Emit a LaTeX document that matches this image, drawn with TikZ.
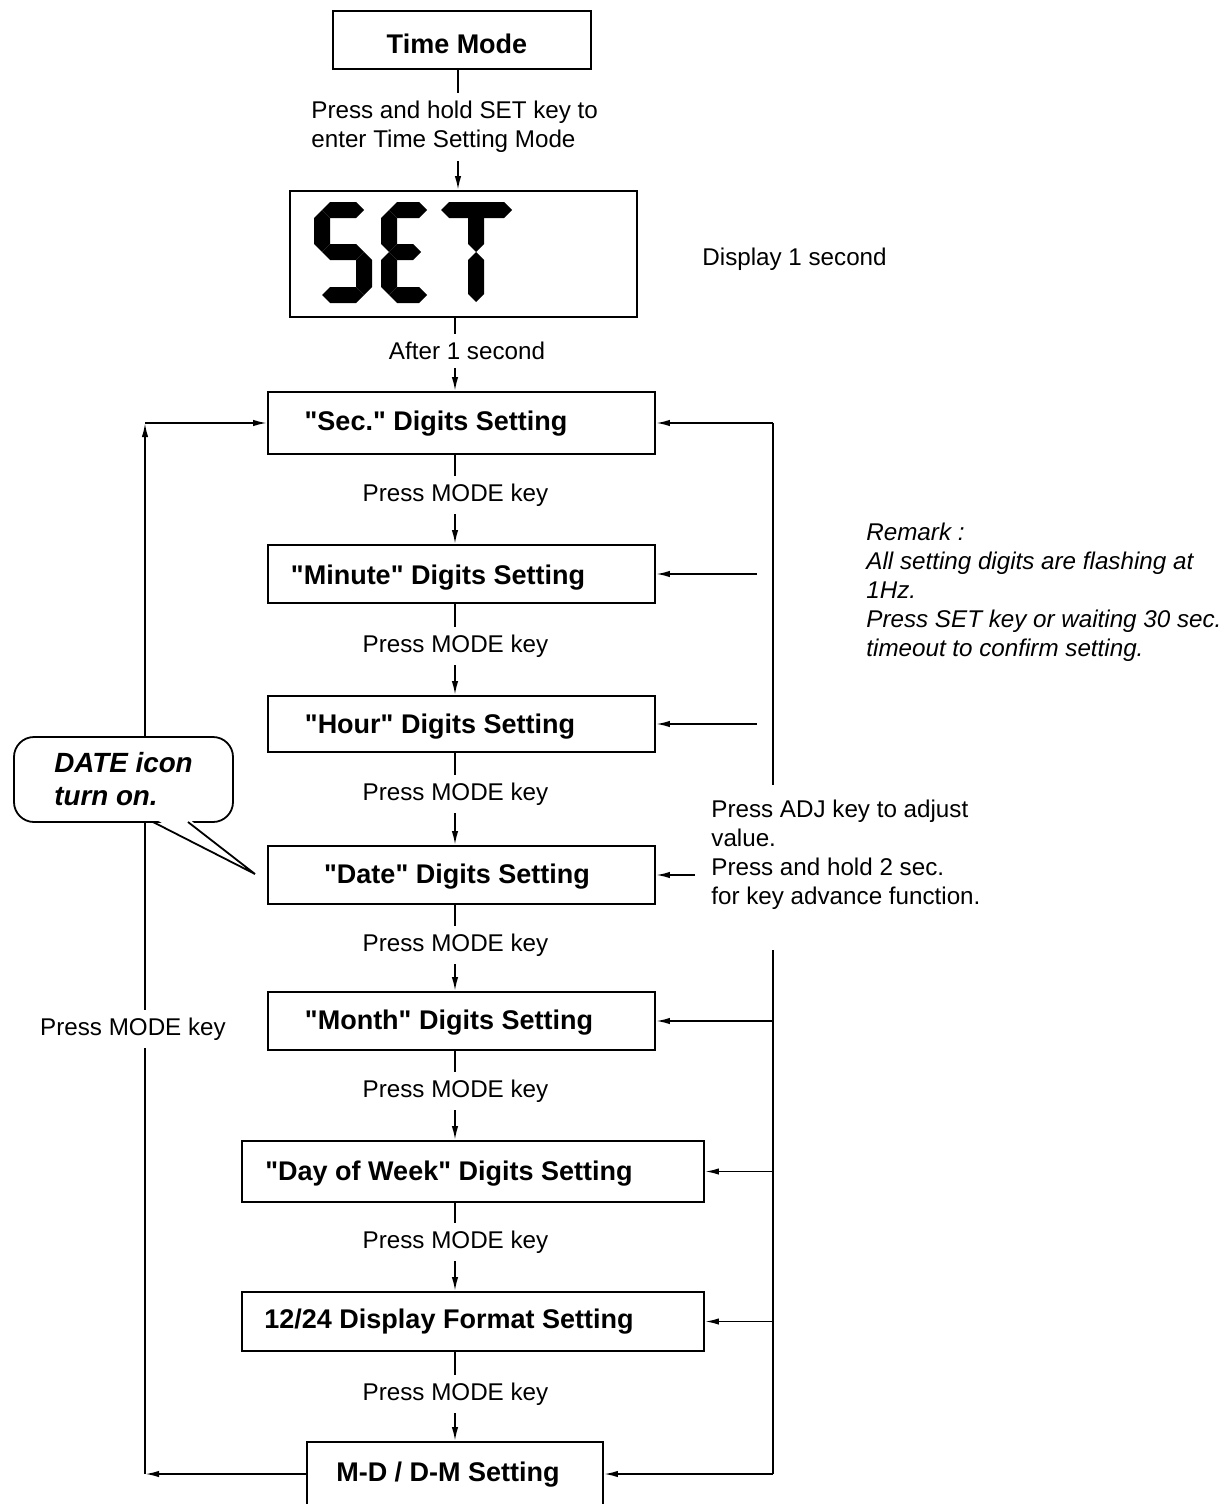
\documentclass[tikz,border=0pt]{standalone}
\usepackage{fontspec}
\setmainfont{Liberation Sans}
\newfontfamily\boxfont{Liberation Sans}
\usetikzlibrary{arrows.meta}
\newcommand\hseg[3]{\fill (#1,#3) -- (#1+8,#3-8) -- (#2-8,#3-8) -- (#2,#3) -- (#2-8,#3+8) -- (#1+8,#3+8) -- cycle;}
\newcommand\vseg[3]{\fill (#1,#2) -- (#1+8,#2+8) -- (#1+8,#3-8) -- (#1,#3) -- (#1-8,#3-8) -- (#1-8,#2+8) -- cycle;}
\begin{document}
\begin{tikzpicture}[x=0.5pt,y=-0.5pt,
  box/.style={draw, line width=0.9pt, inner sep=0pt},
  btxt/.style={inner sep=0pt, font=\boxfont\fontsize{13.5}{16}\selectfont\bfseries},
  lbl/.style={fill=white, inner xsep=1.5pt, inner ysep=4pt, font=\fontsize{12.1}{14.5}\selectfont, align=left},
  txt/.style={inner sep=0pt, font=\fontsize{12.1}{14.5}\selectfont, align=left},
  arr/.style={line width=0.9pt, -{Latex[length=7pt,width=3.2pt]}},
  ln/.style={line width=0.9pt},
]
\clip (0,0) rectangle (1224,1504);
\fill[white] (0,0) rectangle (1224,1504);

% boxes
\node[box, minimum width=129pt, minimum height=29pt] (tm) at (462,40) {};
\node[box, minimum width=173.5pt, minimum height=63pt] (set) at (463.5,254) {};
\node[box, minimum width=193.5pt, minimum height=31pt] (sec) at (461.5,423) {};
\node[box, minimum width=193.5pt, minimum height=29pt] (min) at (461.5,574) {};
\node[box, minimum width=193.5pt, minimum height=28pt] (hour) at (461.5,724) {};
\node[box, minimum width=193.5pt, minimum height=29pt] (date) at (461.5,875) {};
\node[box, minimum width=193.5pt, minimum height=29pt] (month) at (461.5,1021) {};
\node[box, minimum width=231pt, minimum height=30.5pt] (dow) at (473,1171.5) {};
\node[box, minimum width=231pt, minimum height=29.5pt] (fmt) at (473,1321.5) {};
\node[box, minimum width=148pt, minimum height=32pt] (md) at (455,1474) {};

% box texts
\node[btxt] (ttm) at (457,44) {Time Mode};
\node[btxt] (tsec) at (436,424) {"Sec." Digits Setting};
\node[btxt] (tmin) at (438,578) {"Minute" Digits Setting};
\node[btxt] (thour) at (440,727) {"Hour" Digits Setting};
\node[btxt] (tdate) at (457,877) {"Date" Digits Setting};
\node[btxt] (tmonth) at (449,1023) {"Month" Digits Setting};
\node[btxt] (tdow) at (449,1174) {"Day of Week" Digits Setting};
\node[btxt] (tfmt) at (449,1322) {12/24 Display Format Setting};
\node[btxt] (tmd) at (448,1475) {M-D / D-M Setting};

% SET segment display
\hseg{322}{364}{210}
\vseg{322}{210}{252}
\hseg{322}{364}{252}
\vseg{364}{252}{295}
\hseg{322}{364}{295}
\hseg{389}{427}{210}
\vseg{389}{210}{252}
\hseg{389}{421}{252}
\vseg{389}{252}{295}
\hseg{389}{427}{295}
\hseg{441}{512}{210}
\vseg{476}{210}{252}
\vseg{476}{252}{302}

% main flow
\coordinate (c1) at (458,0);
\coordinate (c2) at (455,0);
\draw[arr] (tm.south -| c1) -- (set.north -| c1);
\draw[arr] (set.south -| c2) -- (sec.north -| c2);
\draw[arr] (sec.south -| c2) -- (min.north -| c2);
\draw[arr] (min.south -| c2) -- (hour.north -| c2);
\draw[arr] (hour.south -| c2) -- (date.north -| c2);
\draw[arr] (date.south -| c2) -- (month.north -| c2);
\draw[arr] (month.south -| c2) -- (dow.north -| c2);
\draw[arr] (dow.south -| c2) -- (fmt.north -| c2);
\draw[arr] (fmt.south -| c2) -- (md.north -| c2);

% left loop
\coordinate (lb) at (145,1474);
\coordinate (lt) at (145,423);
\draw[arr] (md.west) -- (lb);
\draw[arr] (lb) -- (lt);
\draw[arr] (lt) -- (sec.west);

% right side
\coordinate (r1) at (773,423);
\coordinate (r2) at (773,785);
\coordinate (r3) at (773,950);
\coordinate (r4) at (773,1474);
\coordinate (rm) at (757,574);
\coordinate (rh) at (757,724);
\coordinate (rd) at (695,875);
\draw[ln] (r1) -- (r2);
\draw[ln] (r3) -- (r4);
\draw[arr] (r1) -- (sec.east);
\draw[arr] (rm) -- (min.east);
\draw[arr] (rh) -- (hour.east);
\draw[arr] (rd) -- (date.east);
\draw[arr] (month.east -| r1) -- (month.east);
\draw[arr] (dow.east -| r1) -- (dow.east);
\draw[arr] (fmt.east -| r1) -- (fmt.east);
\draw[arr] (r4) -- (md.east);

% labels on flow
\node[lbl, anchor=west] (l0) at (308,127) {Press and hold SET key to\\enter Time Setting Mode};
\node[lbl] (l1) at (467,351) {After 1 second};
\node[lbl] (l2) at (455.5,495) {Press MODE key};
\node[lbl] (l3) at (455.5,646) {Press MODE key};
\node[lbl] (l4) at (455.5,794) {Press MODE key};
\node[lbl] (l5) at (455.5,945) {Press MODE key};
\node[lbl] (l6) at (455.5,1091) {Press MODE key};
\node[lbl] (l7) at (455.5,1242) {Press MODE key};
\node[lbl] (l8) at (455.5,1394) {Press MODE key};
\node[lbl] (l9) at (133,1029) {Press MODE key};

% side texts
\node[txt, anchor=west] (disp) at (702,259) {Display 1 second};
\node[txt, anchor=west] (adj) at (711,855) {Press ADJ key to adjust\\value.\\Press and hold 2 sec.\\for key advance function.};
\node[txt, anchor=west, font=\fontsize{12.1}{14.5}\selectfont\itshape] (rem) at (866,592) {Remark :\\All setting digits are flashing at\\1Hz.\\Press SET key or waiting 30 sec.\\timeout to confirm setting.};

% callout
\node[draw, line width=0.9pt, fill=white, rounded corners=10pt, minimum width=109.5pt, minimum height=42.5pt, align=left, font=\fontsize{13.9}{16.5}\selectfont\bfseries\itshape] (callout) at (123.5,779.5) {DATE icon\\turn on.};
\coordinate (p1) at (153,822);
\coordinate (p2) at (188,822);
\coordinate (tip) at (255,874);
\fill[white] (153,818) -- (tip) -- (188,818) -- cycle;
\draw[line width=0.9pt] (p1) -- (tip) -- (p2);
\end{tikzpicture}
\end{document}
